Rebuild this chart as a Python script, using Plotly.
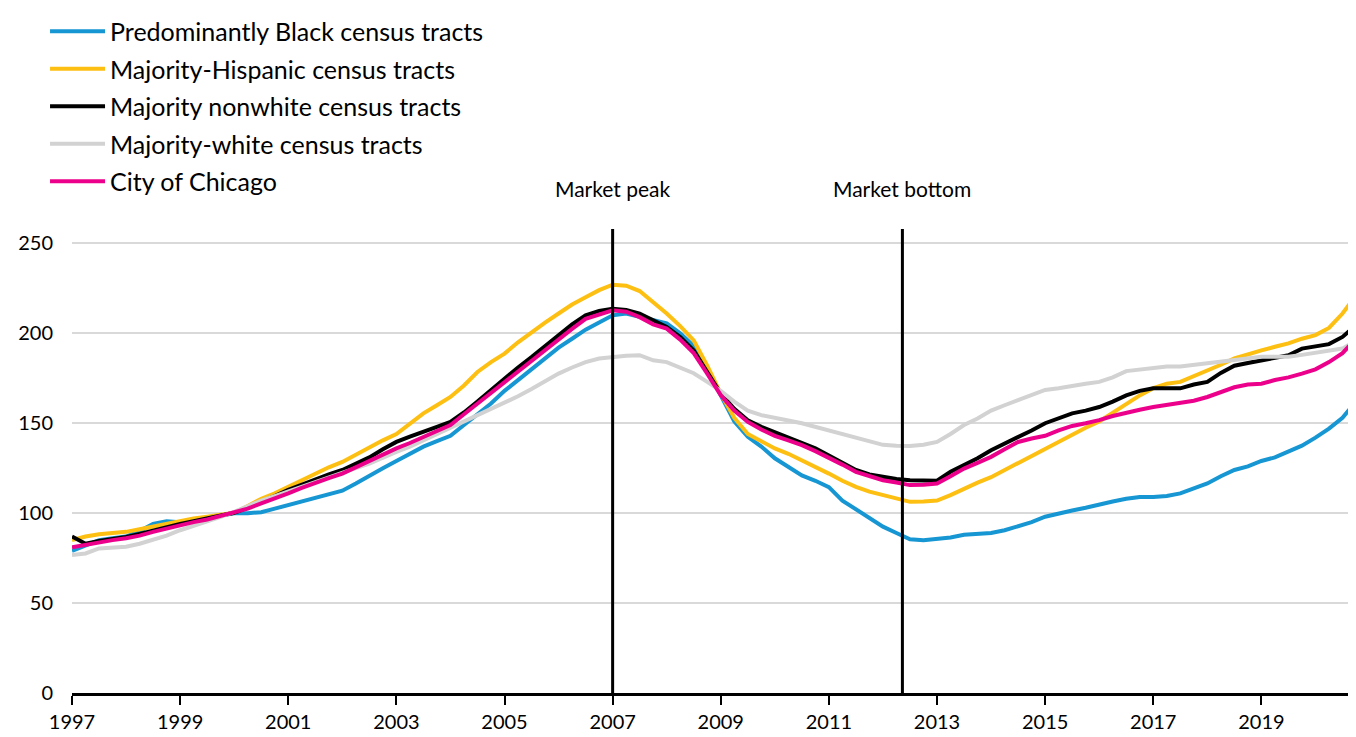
import plotly.graph_objects as go

# quarterly index, 1997 Q1 .. 2020 Q4
quarters = [1997 + i / 4 for i in range(96)]

black_tracts = [
    79, 82, 85, 86,
    87, 90, 94, 95.5,
    95, 96, 97.5, 99,
    100, 100, 100.5, 102.5,
    104.5, 106, 108.5, 110.5,
    112.5, 116.5, 121, 125,
    129, 133, 137, 140,
    143, 149, 155, 161,
    168, 174, 180, 186,
    192, 197, 202, 206,
    210, 211, 209, 207.5,
    205.5, 200, 193, 180,
    165, 151, 142.5, 137,
    130.5, 126, 121, 118,
    114.5, 107, 102, 97,
    92.5, 89, 85.5, 85,
    85.5, 86.5, 88, 88.5,
    89, 90.5, 92.5, 95,
    98, 100, 101.5, 103,
    105, 106.5, 108, 109,
    109, 109.5, 111, 113.5,
    116.5, 120.5, 124, 126,
    129, 131, 134, 137.5,
    142, 147, 153, 162,
]

hispanic_tracts = [
    85, 87, 88.3, 89,
    89.6, 91, 92.5, 94.5,
    95.7, 97, 98, 99,
    100.2, 104, 108, 111,
    114.6, 118, 122, 125.5,
    128.5, 132.5, 136.8, 140.5,
    144, 150, 155.5, 160,
    164.6, 171, 178.5, 184,
    188.7, 195, 200.7, 206,
    211, 216, 220, 224,
    227, 226.5, 223.5, 217.5,
    211, 204, 196, 182,
    166.5, 153, 144, 140,
    136, 133, 129.4, 126,
    122, 118, 114.6, 112,
    110, 108, 106.3, 106.5,
    107, 110, 113.7, 117,
    120, 124, 128, 132,
    136, 140, 144, 147.5,
    151, 156, 161, 165.5,
    169.5, 172, 173, 176,
    179, 182.5, 186, 188.5,
    190.5, 192.5, 194.4, 197,
    199, 203, 211, 221,
]

nonwhite_tracts = [
    87, 83, 84.5, 85.5,
    86.8, 88.5, 90.5, 92,
    94, 95.5, 97, 98.5,
    100.2, 103, 106, 109.5,
    113, 116, 119, 121.5,
    124, 127.5, 131, 135.5,
    139.6, 142.5, 145, 148,
    150.7, 156, 162, 168.5,
    174.8, 181, 186.8, 193,
    199, 205, 210, 212.5,
    213.7, 213, 211, 207,
    203.5, 198, 190.5, 178.5,
    166.5, 158, 151.7, 148,
    145, 142.5, 139.6, 136,
    132, 128, 124, 121.5,
    120, 119, 118.3, 118,
    118, 123, 126.7, 130.5,
    135, 138.5, 142.4, 146,
    150, 153, 155.5, 157,
    159, 162, 165.5, 168,
    169.4, 169.4, 169.4, 171.5,
    173, 178, 182, 183.5,
    185, 186, 187.8, 191.5,
    192.5, 194, 198, 204.5,
]

white_tracts = [
    76.7, 77.6, 80.4, 81,
    81.3, 83, 85, 87.5,
    90.5, 93, 95, 98,
    100.7, 104, 107, 109.5,
    112, 114.5, 117.4, 119.5,
    122, 125, 127.6, 131,
    134, 137, 140.5, 144,
    147, 150.5, 154.4, 158,
    161, 165, 169, 173.5,
    177.6, 181, 184, 186,
    186.8, 187.5, 187.8, 185,
    184, 181, 177.8, 173,
    168, 162, 157, 154.5,
    152.8, 151.5, 150, 148,
    146, 143.5, 141.7, 139.5,
    138, 137.5, 137.4, 138,
    139.6, 144, 149, 152.6,
    157, 160, 162.8, 165.5,
    168.5, 169.5, 171, 172,
    173, 175.5, 179, 180,
    181, 181.5, 181.5, 182.5,
    183, 184, 185.5, 186.5,
    187, 187, 187, 188,
    189, 190, 191.5, 196,
]

chicago = [
    81, 82.5, 84, 85,
    86, 87.5, 89.6, 91.5,
    93.3, 95, 96.5, 98.5,
    100.2, 102.5, 105.4, 108.5,
    111, 114, 117, 119.5,
    122, 125.5, 129.4, 132.5,
    136, 139, 142.4, 145.5,
    149, 155, 161, 167,
    173, 179, 185, 191,
    197, 202.5, 208, 210.5,
    212.8, 212, 209, 205,
    202.6, 196.5, 189, 177.5,
    165.6, 157, 150.7, 146.5,
    143, 140.5, 137.8, 134.5,
    131, 127, 123, 120.5,
    118.3, 117, 115.6, 115.8,
    116.5, 120.5, 124.8, 128,
    131.3, 135.5, 139.6, 141.5,
    143, 146, 148.5, 150,
    151.7, 154, 156, 157.5,
    159, 160, 161, 162.5,
    164.6, 167.5, 170, 171.5,
    172, 174, 175.5, 177.6,
    180, 184, 189, 197,
]

series_names = [
    "Predominantly Black census tracts",
    "Majority-Hispanic census tracts",
    "Majority nonwhite census tracts",
    "Majority-white census tracts",
    "City of Chicago",
]
series_values = [black_tracts, hispanic_tracts, nonwhite_tracts, white_tracts, chicago]
colors = ["#1696d2", "#fdbf11", "#000000", "#d2d2d2", "#ec008b"]

events = ["Market peak", "Market bottom"]
event_years = [2007.0, 2012.36]

x_ticks = list(range(1997, 2021, 2))
y_ticks = [0, 50, 100, 150, 200, 250]

fig = go.Figure()
for name, vals, col in zip(series_names, series_values, colors):
    fig.add_trace(go.Scatter(x=quarters, y=vals, mode="lines", name=name,
                             legendgroup=name,
                             line=dict(color=col, width=4)))

for label, yr in zip(events, event_years):
    fig.add_shape(type="line", xref="x", yref="paper", x0=yr, x1=yr, y0=0, y1=1,
                  line=dict(color="black", width=3))
    fig.add_annotation(x=yr, xref="x", y=1.088, yref="paper", yanchor="middle",
                       text=label, showarrow=False,
                       font=dict(size=21, color="black"))

# page body adds an 8px offset, so the figure is trimmed to fit the window
fig.update_layout(
    width=1348, height=729,
    margin=dict(l=64, r=0, t=221, b=44),
    plot_bgcolor="white", paper_bgcolor="white",
    font=dict(family="Lato", size=20, color="black"),
    showlegend=True,
    legend=dict(x=-0.021, y=1.475, xanchor="left", yanchor="top",
                font=dict(size=25), traceorder="grouped", tracegroupgap=2,
                itemwidth=55, bgcolor="rgba(0,0,0,0)"),
    xaxis=dict(range=[1997, 2020.75], tickvals=x_ticks, ticks="outside",
               ticklen=9, tickwidth=2, tickcolor="black", showgrid=False,
               showline=True, linecolor="black", linewidth=3,
               tickfont=dict(size=20)),
    yaxis=dict(range=[0, 258], tickvals=y_ticks, showgrid=True,
               gridcolor="#d9d9d9", gridwidth=2, zeroline=False,
               ticks="outside", ticklen=14, tickcolor="rgba(0,0,0,0)",
               tickfont=dict(size=20)),
)

fig.write_html("out.html")
